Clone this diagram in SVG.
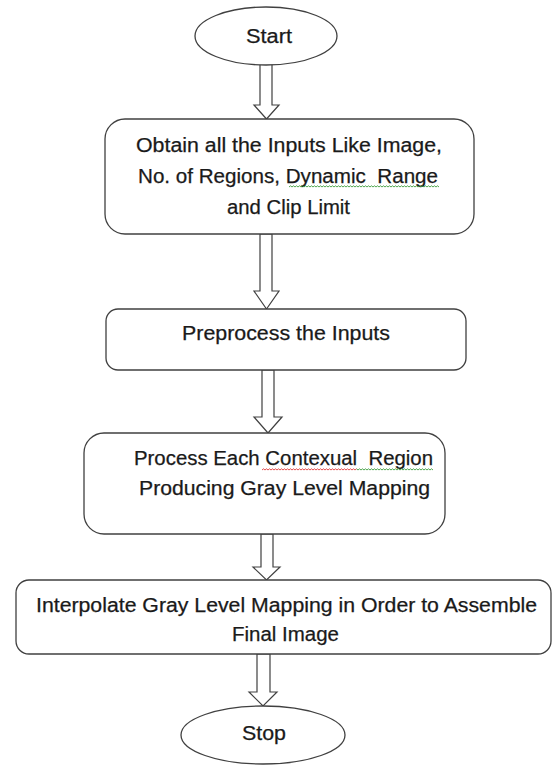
<svg xmlns="http://www.w3.org/2000/svg" width="554" height="767" viewBox="0 0 554 767">
<style>
.shape{fill:#fff;stroke:#404040;stroke-width:1.3}
.arrow{fill:#fff;stroke:#404040;stroke-width:1.2;stroke-linejoin:miter}
.t{font-family:"Liberation Sans",Arial,sans-serif;font-size:20px;fill:#1a1a1a;stroke:#1a1a1a;stroke-width:0.25}
.sqr{fill:none;stroke:#e03a3a;stroke-width:0.9}
.sqg{fill:none;stroke:#3c9c3c;stroke-width:0.9}
</style>
<rect width="554" height="767" fill="#fff"/>
<g id="connectors">
<polygon class="arrow" points="260,64 272,64 272,105 279,105 266.5,119 254,105 260,105"/>
<polygon class="arrow" points="260,234 272,234 272,291 279,291 266.5,309 254,291 260,291"/>
<polygon class="arrow" points="262,370 274,370 274,417 282,417 268,433 254,417 262,417"/>
<polygon class="arrow" points="261,534 273,534 273,567 280,567 266.5,580 253,567 261,567"/>
<polygon class="arrow" points="257,654 270,654 270,692 277,692 263,706 249,692 257,692"/>
</g>
<g id="start">
<ellipse class="shape" cx="266" cy="36" rx="71" ry="29"/>
<text class="t" x="246" y="43" textLength="46" lengthAdjust="spacingAndGlyphs">Start</text>
</g>
<g id="obtain">
<rect class="shape" x="105" y="119" width="369" height="115" rx="20"/>
<text class="t" x="136" y="152" textLength="306" lengthAdjust="spacingAndGlyphs">Obtain all the Inputs Like Image,</text>
<text class="t" x="138" y="183" textLength="300" lengthAdjust="spacingAndGlyphs" xml:space="preserve">No. of Regions, Dynamic  Range</text>
<text class="t" x="227" y="214" textLength="123" lengthAdjust="spacingAndGlyphs">and Clip Limit</text>
<polyline class="sqg" points="289,187 290.5,185.8 292,187 293.5,185.8 295,187 296.5,185.8 298,187 299.5,185.8 301,187 302.5,185.8 304,187 305.5,185.8 307,187 308.5,185.8 310,187 311.5,185.8 313,187 314.5,185.8 316,187 317.5,185.8 319,187 320.5,185.8 322,187 323.5,185.8 325,187 326.5,185.8 328,187 329.5,185.8 331,187 332.5,185.8 334,187 335.5,185.8 337,187 338.5,185.8 340,187 341.5,185.8 343,187 344.5,185.8 346,187 347.5,185.8 349,187 350.5,185.8 352,187 353.5,185.8 355,187 356.5,185.8 358,187 359.5,185.8 361,187 362.5,185.8 364,187 365.5,185.8 367,187 368.5,185.8 370,187 371.5,185.8 373,187 374.5,185.8 376,187 377.5,185.8 379,187 380.5,185.8 382,187 383.5,185.8 385,187 386.5,185.8 388,187 389.5,185.8 391,187 392.5,185.8 394,187 395.5,185.8 397,187 398.5,185.8 400,187 401.5,185.8 403,187 404.5,185.8 406,187 407.5,185.8 409,187 410.5,185.8 412,187 413.5,185.8 415,187 416.5,185.8 418,187 419.5,185.8 421,187 422.5,185.8 424,187 425.5,185.8 427,187 428.5,185.8 430,187 431.5,185.8 433,187 434.5,185.8 436,187 437.5,185.8 439,187"/>
</g>
<g id="preprocess">
<rect class="shape" x="106" y="309" width="360" height="61" rx="12"/>
<text class="t" x="182" y="340" textLength="208" lengthAdjust="spacingAndGlyphs">Preprocess the Inputs</text>
</g>
<g id="process">
<rect class="shape" x="84" y="433" width="361" height="101" rx="20"/>
<text class="t" x="134" y="465" textLength="299" lengthAdjust="spacingAndGlyphs" xml:space="preserve">Process Each Contexual  Region</text>
<text class="t" x="139" y="495" textLength="291" lengthAdjust="spacingAndGlyphs">Producing Gray Level Mapping</text>
<polyline class="sqr" points="262,470 263.5,468.8 265,470 266.5,468.8 268,470 269.5,468.8 271,470 272.5,468.8 274,470 275.5,468.8 277,470 278.5,468.8 280,470 281.5,468.8 283,470 284.5,468.8 286,470 287.5,468.8 289,470 290.5,468.8 292,470 293.5,468.8 295,470 296.5,468.8 298,470 299.5,468.8 301,470 302.5,468.8 304,470 305.5,468.8 307,470 308.5,468.8 310,470 311.5,468.8 313,470 314.5,468.8 316,470 317.5,468.8 319,470 320.5,468.8 322,470 323.5,468.8 325,470 326.5,468.8 328,470 329.5,468.8 331,470 332.5,468.8 334,470 335.5,468.8 337,470 338.5,468.8 340,470 341.5,468.8 343,470 344.5,468.8 346,470 347.5,468.8 349,470 350.5,468.8 352,470 353.5,468.8 355,470 356.5,468.8"/>
<polyline class="sqg" points="356.5,468.8 358,470 359.5,468.8 361,470 362.5,468.8 364,470 365.5,468.8 367,470 368.5,468.8 370,470 371.5,468.8 373,470 374.5,468.8 376,470 377.5,468.8 379,470 380.5,468.8 382,470 383.5,468.8 385,470 386.5,468.8 388,470 389.5,468.8 391,470 392.5,468.8 394,470 395.5,468.8 397,470 398.5,468.8 400,470 401.5,468.8 403,470 404.5,468.8 406,470 407.5,468.8 409,470 410.5,468.8 412,470 413.5,468.8 415,470 416.5,468.8 418,470 419.5,468.8 421,470 422.5,468.8 424,470 425.5,468.8 427,470 428.5,468.8 430,470 431.5,468.8 433,470"/>
</g>
<g id="interpolate">
<rect class="shape" x="16" y="580" width="535" height="74" rx="13"/>
<text class="t" x="36" y="612" textLength="501" lengthAdjust="spacingAndGlyphs">Interpolate Gray Level Mapping in Order to Assemble</text>
<text class="t" x="232" y="641" textLength="107" lengthAdjust="spacingAndGlyphs">Final Image</text>
</g>
<g id="stop">
<ellipse class="shape" cx="263" cy="735" rx="82" ry="29"/>
<text class="t" x="242" y="740" textLength="44" lengthAdjust="spacingAndGlyphs">Stop</text>
</g>
</svg>
